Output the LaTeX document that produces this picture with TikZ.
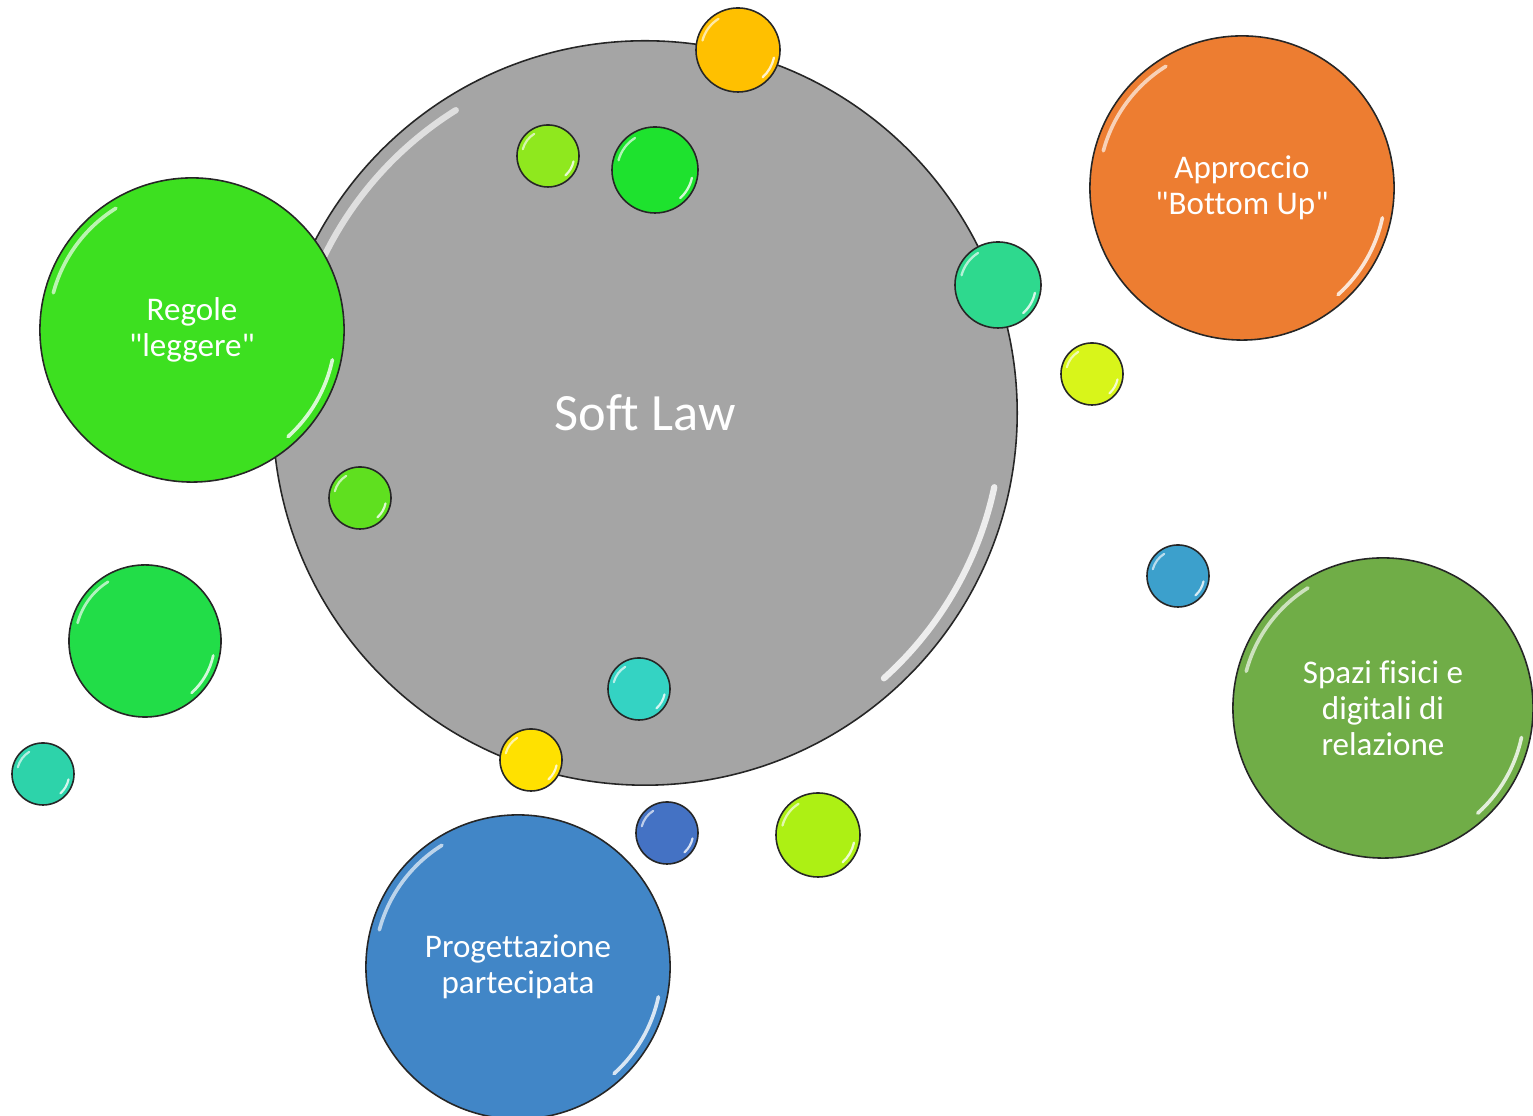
\documentclass[tikz,border=0pt]{standalone}
\usepackage{fontspec}
\setmainfont{Carlito}[Ligatures={TeXOff,NoCommon}]
\definecolor{cgray}{HTML}{A5A5A5}
\definecolor{corange}{HTML}{ED7D31}
\definecolor{cregole}{HTML}{3DE020}
\definecolor{cspazi}{HTML}{70AD47}
\definecolor{cprog}{HTML}{4186C7}
\definecolor{cgold}{HTML}{FFC000}
\definecolor{clime}{HTML}{8FE81E}
\definecolor{cgreen}{HTML}{1EE22E}
\definecolor{cteal}{HTML}{2ED98E}
\definecolor{cyg}{HTML}{D8F51A}
\definecolor{cgs}{HTML}{5FE01F}
\definecolor{cgb}{HTML}{22DD48}
\definecolor{ctealb}{HTML}{2DD3AA}
\definecolor{ccyan}{HTML}{34D3C3}
\definecolor{cyellow}{HTML}{FFE100}
\definecolor{cdblue}{HTML}{4472C4}
\definecolor{clime2}{HTML}{ADF014}
\definecolor{clblue}{HTML}{3CA0CC}
\tikzset{
  bubble/.style={circle, draw=black!85, line width=0.45pt, inner sep=0pt,
    text=white, align=center, font=\fontsize{9.4}{10.3}\selectfont},
  shine/.style={white, opacity=.65, line cap=round}
}
\newcommand\bub[6]{%
  \node[bubble, fill=#5, minimum size={#4*0.2mm}] (#1) at ({#2},{1116-#3}) {#6};
  \draw[shine, line width={(1.8+#4*0.012)*0.1mm}]
    ([shift={(122:{(#4*0.97-4)*0.1mm})}]#1.center)
    arc[start angle=122, end angle=165, radius={(#4*0.97-4)*0.1mm}];
  \draw[shine, opacity=.8, line width={(1.8+#4*0.012)*0.1mm}]
    ([shift={(-12:{(#4*0.97-4)*0.1mm})}]#1.center)
    arc[start angle=-12, end angle=-48, radius={(#4*0.97-4)*0.1mm}];
}
\newcommand\qq{"}
\begin{document}
\begin{tikzpicture}[x=0.01cm,y=0.01cm]
\fill[white] (0,0) rectangle (1533,1116);
\useasboundingbox (0,0) rectangle (1533,1116);
\bub{soft}{645}{413}{372}{cgray}{\fontsize{14.9}{16}\selectfont Soft Law}
\bub{regole}{192}{330}{152}{cregole}{Regole\\\qq leggere\qq}
\bub{approccio}{1242}{188}{152}{corange}{Approccio\\\qq Bottom Up\qq}
\bub{spazi}{1383}{708}{150}{cspazi}{Spazi fisici e\\digitali di\\relazione}
\bub{proget}{518}{967}{152}{cprog}{Progettazione\\partecipata}
\bub{b1}{738}{50}{42}{cgold}{}
\bub{b2}{548}{156}{31}{clime}{}
\bub{b3}{655}{170}{43}{cgreen}{}
\bub{b4}{998}{285}{43}{cteal}{}
\bub{b5}{1092}{374}{31}{cyg}{}
\bub{b6}{360}{498}{31}{cgs}{}
\bub{b7}{145}{641}{76}{cgb}{}
\bub{b8}{43}{774}{31}{ctealb}{}
\bub{b9}{639}{689}{31}{ccyan}{}
\bub{b10}{531}{760}{31}{cyellow}{}
\bub{b11}{667}{833}{31}{cdblue}{}
\bub{b12}{818}{835}{42}{clime2}{}
\bub{b13}{1178}{576}{31}{clblue}{}
\end{tikzpicture}
\end{document}
